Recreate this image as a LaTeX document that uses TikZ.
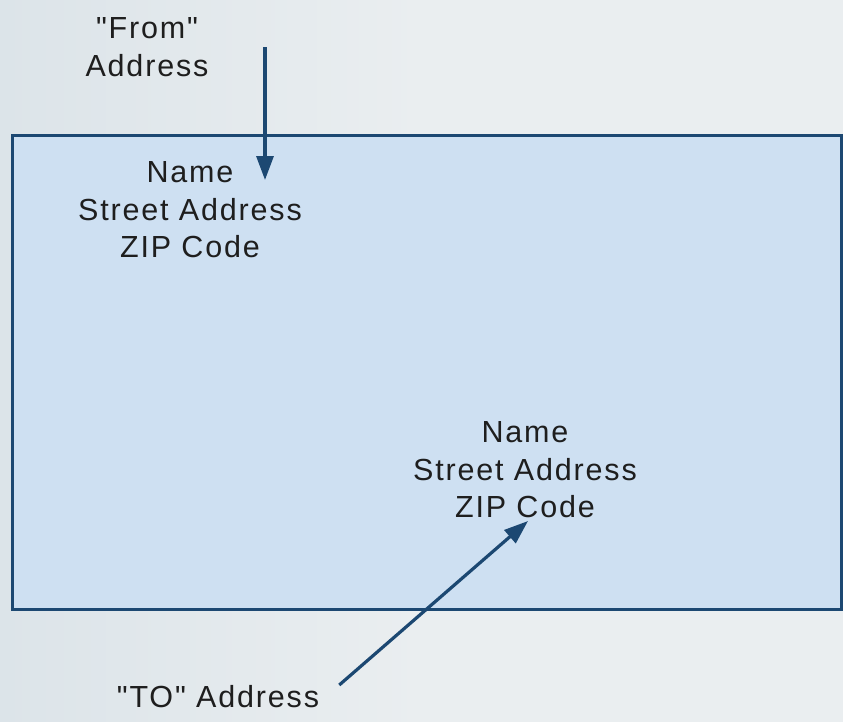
\documentclass[tikz,border=0pt]{standalone}
\usepackage{fontspec}
\setmainfont{Liberation Sans}[Ligatures=TeXOff,LetterSpace=6]
\usepackage{tikz}
\usetikzlibrary{arrows.meta,positioning,calc}
\usepackage{xcolor}
\definecolor{envfill}{RGB}{206,224,242}
\definecolor{envline}{RGB}{28,72,114}
\definecolor{bgpaper}{RGB}{234,238,240}
\definecolor{bgleft}{RGB}{220,228,233}
\definecolor{inktext}{RGB}{30,30,30}

\begin{document}
\begin{tikzpicture}[x=1pt,y=-1pt,
	  every node/.style={align=center,text=inktext,inner sep=0pt,font=\fontsize{30.5}{37.5}\selectfont},
	  envelope/.style={draw=envline,line width=3pt,fill=envfill},
	  addr/.style={anchor=center},
	  pointer/.style={-{Triangle[length=24pt,width=17pt]},draw=envline,line width=3.2pt}]

	  % paper background
	  \shade[left color=bgleft,right color=bgpaper,middle color=bgpaper] (0,0) rectangle (843,721);
	  \useasboundingbox (0,0) rectangle (843,721);

	  % the envelope
	  \draw[envelope] (12,135) rectangle (841,609);

	  % addresses and labels
	  \node[addr] (fromlabel) at (147,47) {"From"\\Address};
	  \node[addr] (sender) at (190,210) {Name\\Street Address\\ZIP Code};
	  \node[addr] (recipient) at (525,470) {Name\\Street Address\\ZIP Code};
	  \node[addr] (tolabel) at (218,697) {"TO" Address};

	  % arrow ends
	  \coordinate (fromtail) at (265,47);
	  \coordinate (fromtip) at (265,180);
	  \coordinate (totail) at ($(tolabel.east)+(20,-12)$);
	  \coordinate (totip) at (528,521);

	  \draw[pointer] (fromtail) -- (fromtip);
	  \draw[pointer] (totail) -- (totip);

\end{tikzpicture}
\end{document}
